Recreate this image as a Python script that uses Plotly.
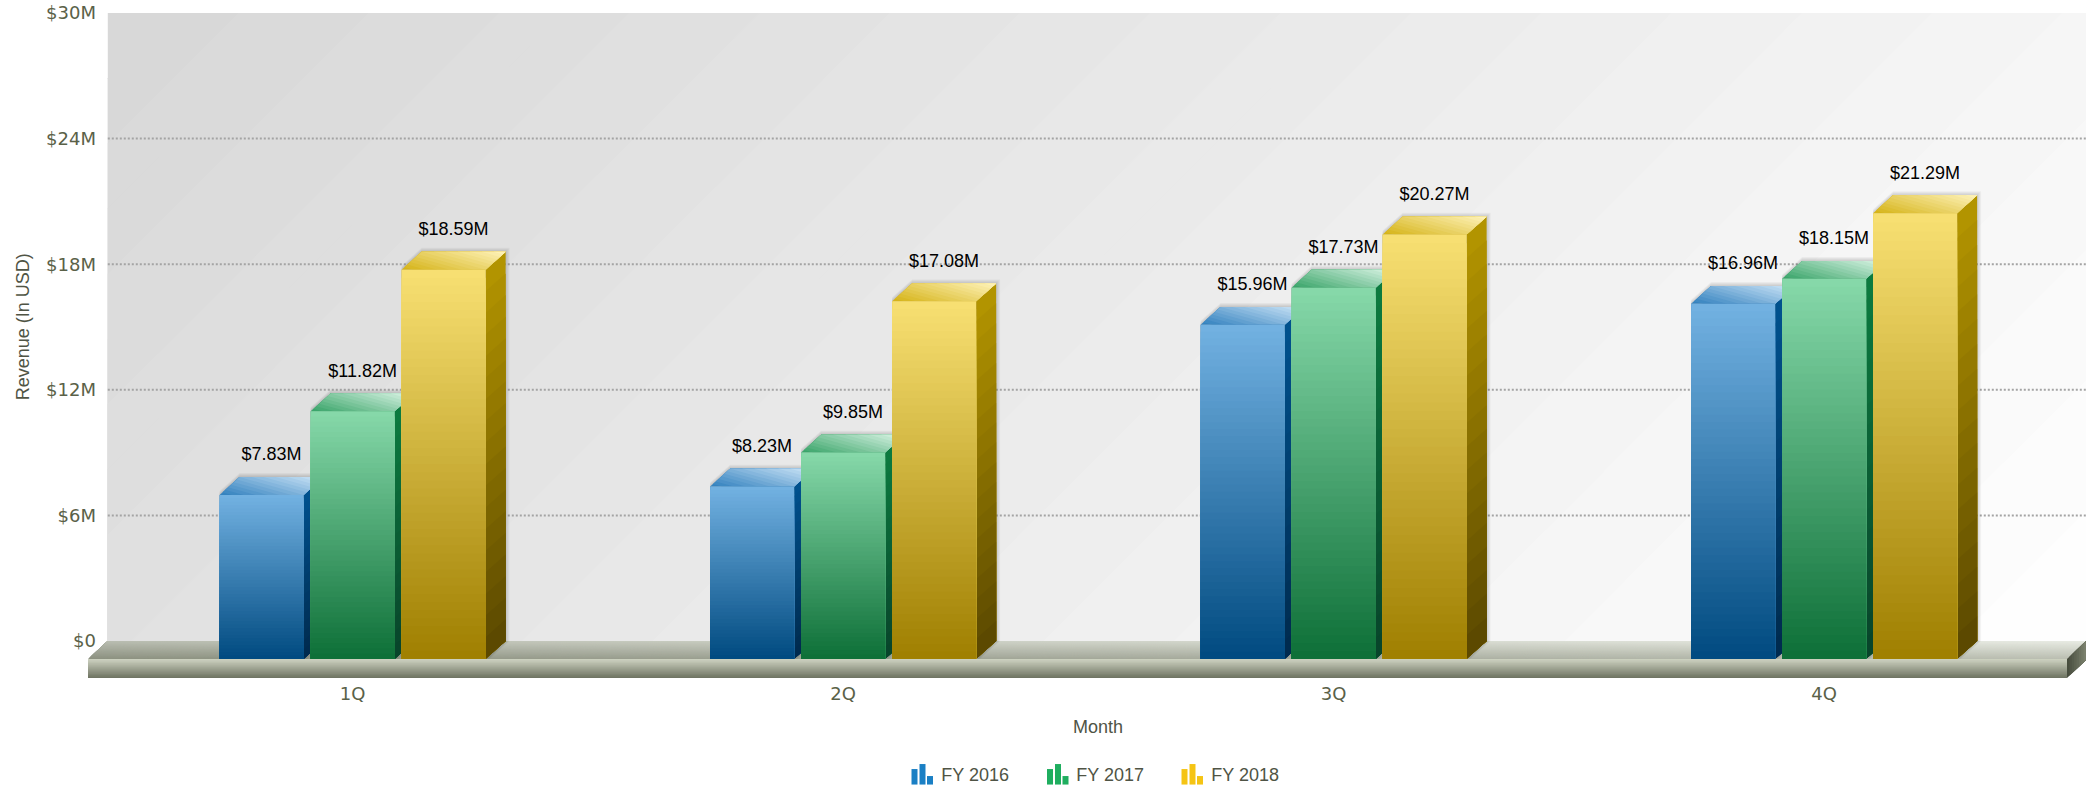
import plotly.graph_objects as go

# ---------- data ----------
QUARTERS = ["1Q", "2Q", "3Q", "4Q"]
SERIES = ["FY 2016", "FY 2017", "FY 2018"]
FY2016 = [7.83, 8.23, 15.96, 16.96]
FY2017 = [11.82, 9.85, 17.73, 18.15]
FY2018 = [18.59, 17.08, 20.27, 21.29]
VALUES = [FY2016, FY2017, FY2018]
Y_TICKS = [0, 6, 12, 18, 24, 30]
Y_TICK_LABELS = ["$0", "$6M", "$12M", "$18M", "$24M", "$30M"]
GRID_VALUES = [6, 12, 18, 24]

# ---------- styles ----------
FRONT = [("#73b2e2", "#004a80"), ("#87d9aa", "#0d6f37"), ("#f8e073", "#9f7f00")]
SIDE = [("#00528f", "#002a4d"), ("#0c7c40", "#08432a"), ("#b59600", "#594700")]
TOP = [("#2f7fbd", "#cfe6f8"), ("#35a266", "#dcf5e6"), ("#d4b214", "#fff3bb")]
ICON = ["#1a7fc4", "#1fae5f", "#f5c414"]
TXT = "#4f5445"
TICK = "#5a6148"

W, H = 2086, 787
L, R, T, B = 88.0, 2086.0, 13.3, 681.0
BACK_LEFT = 107.8
Y0_PX = 641.0
PXM = (Y0_PX - T) / 30
CAT_PX = 490.5
CAT0_PX = 352.6
DX_PX, DY_PX = 20.0, 17.8
BAR_PX, STEP_PX = 84.0, 91.0


def X(px):
    return (px - CAT0_PX) / CAT_PX


def Y(py):
    return (Y0_PX - py) / PXM


DX, DY = DX_PX / CAT_PX, DY_PX / PXM
BW, STEP = BAR_PX / CAT_PX, STEP_PX / CAT_PX


def mix(c0, c1, t):
    a = [int(c0[i:i + 2], 16) for i in (1, 3, 5)]
    b = [int(c1[i:i + 2], 16) for i in (1, 3, 5)]
    return "rgb(%d,%d,%d)" % tuple(round(p + (q - p) * t) for p, q in zip(a, b))


def clip(points, fn, s):
    out = []
    for i, p in enumerate(points):
        q = points[(i + 1) % len(points)]
        fp, fq = fn(p) - s, fn(q) - s
        if fp >= 0:
            out.append(p)
        if (fp >= 0) != (fq >= 0):
            r = fp / (fp - fq)
            out.append((p[0] + (q[0] - p[0]) * r, p[1] + (q[1] - p[1]) * r))
    return out


def path(points):
    return "M" + " L".join("%.5f,%.5f" % p for p in points) + " Z"


shapes = []


def add_poly(points, color, layer="between"):
    shapes.append(dict(type="path", path=path(points), xref="x", yref="y", layer=layer,
                       fillcolor=color, line=dict(width=0)))


def gradient(points, fn, c0, c1, n, layer="between"):
    for k in range(n):
        poly = clip(points, fn, k / n)
        if len(poly) >= 3:
            add_poly(poly, mix(c0, c1, (k + 0.5) / n), layer)


def diag_fn(p0, p1, p3):
    ax, ay = p1[0] - p0[0], p1[1] - p0[1]
    bx, by = p3[0] - p0[0], p3[1] - p0[1]
    det = ax * by - ay * bx

    def fn(p):
        dx, dy = p[0] - p0[0], p[1] - p0[1]
        u = (dx * by - dy * bx) / det
        v = (ax * dy - ay * dx) / det
        return (u + v) / 2
    return fn


# back wall, 45 degree gradient
wall = [(X(BACK_LEFT), Y(T)), (X(R), Y(T)), (X(R), Y(Y0_PX)), (X(BACK_LEFT), Y(Y0_PX))]
span = (R - BACK_LEFT) + (Y0_PX - T)
gradient(wall, lambda p: ((p[0] * CAT_PX + CAT0_PX - BACK_LEFT) + (Y0_PX - p[1] * PXM - T)) / span,
         "#d7d7d7", "#ffffff", 40, layer="below")

# dotted gridlines
for g in GRID_VALUES:
    shapes.append(dict(type="line", xref="x", yref="y", layer="between", x0=X(BACK_LEFT), x1=X(R),
                       y0=g, y1=g, line=dict(color="#a4a4a4", width=2, dash="2px,2px")))

# floor
F_TOP, F_BOT = 659.0, 678.0
fa, fb, fc, fd = (X(L), Y(F_TOP)), (X(2067), Y(F_TOP)), (X(R), Y(Y0_PX)), (X(BACK_LEFT), Y(Y0_PX))
gradient([fa, fb, fc, fd], diag_fn(fa, fb, fd), "#8c9180", "#e8ebe3", 50)
front_rect = [(X(L), Y(F_TOP)), (X(2067), Y(F_TOP)), (X(2067), Y(F_BOT)), (X(L), Y(F_BOT))]
gradient(front_rect, lambda p: (Y(F_TOP) - p[1]) / (Y(F_TOP) - Y(F_BOT)), "#cfd4c2", "#6c7160", 14)
side_poly = [(X(2067), Y(F_TOP)), (X(R), Y(Y0_PX)), (X(R), Y(Y0_PX + F_BOT - F_TOP)), (X(2067), Y(F_BOT))]
gradient(side_poly, lambda p: (p[0] - X(2067)) / (X(R) - X(2067)), "#454b3c", "#7d826f", 8)

# drop shadow and 3-D faces for the bars
for s, vals in enumerate(VALUES):
    for q, v in enumerate(vals):
        xc = q + (s - 1) * STEP
        x0, x1 = xc - BW / 2, xc + BW / 2
        top = v - DY
        outline = [(x0, top), (x0 + DX, top + DY), (x1 + DX, top + DY), (x1 + DX, 0), (x1, -DY), (x0, -DY)]
        for grow in (4, 3, 2, 1):
            ex, ey = grow / CAT_PX, grow / PXM
            add_poly([(px + (ex if px > xc else 0), py + (ey if py > 0 else 0)) for px, py in outline],
                     "rgba(0,0,0,0.04)")

for s, vals in enumerate(VALUES):
    for q, v in enumerate(vals):
        xc = q + (s - 1) * STEP
        x0, x1 = xc - BW / 2, xc + BW / 2
        top = v - DY
        # right side face, darkening downward
        sp = [(x1, top), (x1 + DX, top + DY), (x1 + DX, 0), (x1, -DY)]
        gradient(sp, lambda p, x1=x1, v=v: 1 - (p[1] - (p[0] - x1) / DX * DY + DY) / v,
                 SIDE[s][0], SIDE[s][1], 18)
        # top face, lightening toward the back right corner
        p0, p1, p3 = (x0, top), (x1, top), (x0 + DX, top + DY)
        gradient([p0, p1, (x1 + DX, top + DY), p3], diag_fn(p0, p1, p3), TOP[s][0], TOP[s][1], 14)


# page pixel -> paper fractions
def paper_x(px):
    return (px - L) / (R - L)


def paper_y(py):
    return (B - py) / (B - T)


ICON_X = [911.5, 1047.0, 1181.5]
for s, ix in enumerate(ICON_X):
    for off, top_px in ((0, 769), (8, 764), (15.5, 776)):
        shapes.append(dict(type="rect", xref="paper", yref="paper",
                           x0=paper_x(ix + off), x1=paper_x(ix + off + 6),
                           y0=paper_y(784.5), y1=paper_y(top_px),
                           fillcolor=ICON[s], line=dict(width=0)))

fig = go.Figure()

# front faces: native bars, then gradient slices from top to bottom
N = 48
for s, vals in enumerate(VALUES):
    xs = [q + (s - 1) * STEP for q in range(len(QUARTERS))]
    fig.add_trace(go.Bar(name=SERIES[s], x=xs, y=vals, base=[-DY] * len(vals), width=BW,
                         marker=dict(color=mix(*FRONT[s], 0.5), line=dict(width=0)),
                         showlegend=False, hoverinfo="skip"))
    sx, sy, sc = [], [], []
    for k in range(N):
        for x, v in zip(xs, vals):
            sx.append(x)
            sy.append(v * (N - k) / N)
            sc.append(mix(*FRONT[s], (k + 0.5) / N))
    fig.add_trace(go.Bar(x=sx, y=sy, base=[-DY] * len(sy), width=BW,
                         marker=dict(color=sc, line=dict(width=0)),
                         showlegend=False, hoverinfo="skip"))

# data labels
for s, vals in enumerate(VALUES):
    fig.add_trace(go.Scatter(x=[q + (s - 1) * STEP + 10 / CAT_PX for q in range(len(QUARTERS))],
                             y=[v - DY + 39 / PXM for v in vals],
                             mode="text", text=["$%.2fM" % v for v in vals], textposition="middle center",
                             textfont=dict(family="Liberation Sans", size=18, color="#000000"),
                             showlegend=False, hoverinfo="skip"))

# legend entries: the little bar icons are drawn in their swatch slots
for s, name in enumerate(SERIES):
    fig.add_trace(go.Scatter(x=[None], y=[None], mode="markers", name=name,
                             marker=dict(color="rgba(0,0,0,0)", size=1)))

fig.update_layout(
    width=W, height=H, autosize=False,
    margin=dict(l=L, r=W - R, t=T, b=H - B, pad=0),
    paper_bgcolor="#ffffff", plot_bgcolor="rgba(0,0,0,0)",
    barmode="overlay", shapes=shapes,
    font=dict(family="Liberation Sans", size=18, color=TXT),
    legend=dict(orientation="h", xref="container", yref="container",
                x=901.2 / W, xanchor="left", y=1 - 755.5 / H, yanchor="top",
                entrywidth=90, entrywidthmode="pixels", itemwidth=30, bgcolor="rgba(0,0,0,0)",
                font=dict(family="Liberation Sans", size=18, color=TXT)),
    xaxis=dict(range=[X(L), X(R)], tickmode="array", tickvals=list(range(len(QUARTERS))), ticktext=QUARTERS,
               showgrid=False, zeroline=False, showline=False, ticks="",
               tickfont=dict(family="DejaVu Sans", size=18, color=TICK)),
    yaxis=dict(range=[Y(B), 30], tickmode="array", tickvals=Y_TICKS, ticktext=Y_TICK_LABELS,
               showgrid=False, zeroline=False, showline=False, ticks="", ticklabelstandoff=-9,
               ticklabeloverflow="allow",
               tickfont=dict(family="DejaVu Sans", size=18, color=TICK)),
    annotations=[
        dict(text="Month", xref="paper", yref="paper", x=paper_x(1097.5), y=paper_y(726.5), showarrow=False,
             xanchor="center", yanchor="middle",
             font=dict(family="Liberation Sans", size=18, color=TXT)),
        dict(text="Revenue (In USD)", xref="paper", yref="paper", x=paper_x(22.5), y=paper_y(327), showarrow=False,
             xanchor="center", yanchor="middle", textangle=-90,
             font=dict(family="Liberation Sans", size=18, color=TXT)),
    ],
)

fig.write_html("out.html", config={"displayModeBar": False},
               post_script="document.body.style.margin='0';")
